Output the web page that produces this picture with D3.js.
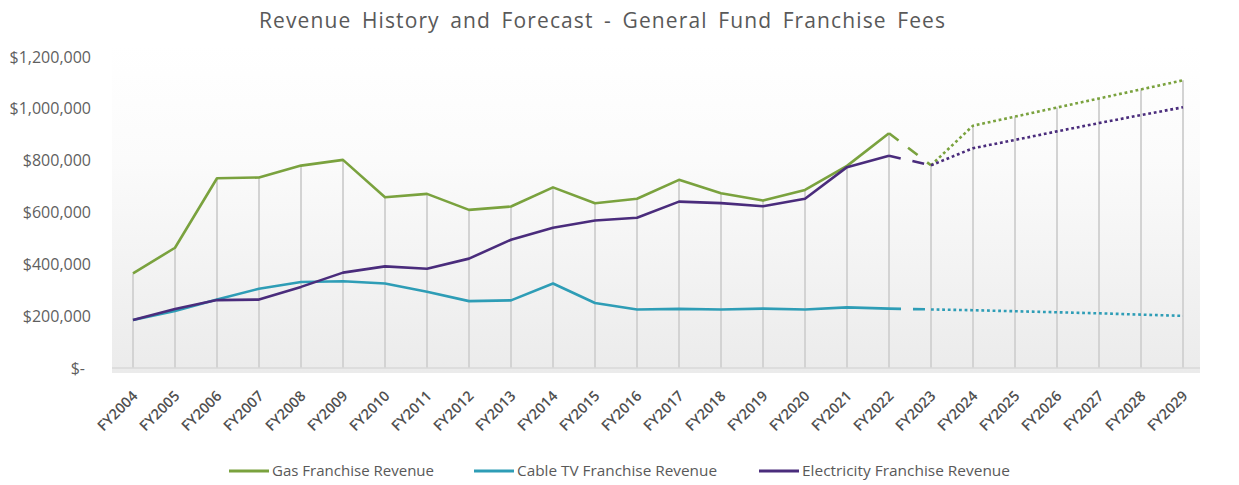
<!DOCTYPE html>
<html>
<head>
<meta charset="utf-8">
<script src="https://cdn.jsdelivr.net/npm/d3@7/dist/d3.min.js"></script>
<style>
  html, body { margin: 0; padding: 0; background: #ffffff; }
  svg { display: block; font-family: "Open Sans", "DejaVu Sans", sans-serif; }
</style>
</head>
<body>
<svg id="chart" width="1239" height="485"></svg>
<script>
// Fiscal years (actuals through FY2022, estimate FY2023, forecast FY2024-FY2029)
const years = ["FY2004","FY2005","FY2006","FY2007","FY2008","FY2009","FY2010","FY2011","FY2012",
  "FY2013","FY2014","FY2015","FY2016","FY2017","FY2018","FY2019","FY2020","FY2021","FY2022",
  "FY2023","FY2024","FY2025","FY2026","FY2027","FY2028","FY2029"];

// Revenue by source (dollars)
const gasRevenue = [365000, 464000, 732000, 735000, 781000, 803000, 659000, 672000, 610000,
  623000, 697000, 636000, 653000, 726000, 674000, 646000, 687000, 780000, 906000,
  782000, 935000, 970000, 1005000, 1040000, 1075000, 1110000];
const cableRevenue = [185000, 220000, 264000, 306000, 332000, 335000, 326000, 294000, 258000,
  261000, 326000, 251000, 226000, 228000, 226000, 229000, 226000, 234000, 229000,
  226000, 223000, 219000, 215000, 211000, 206000, 201000];
const electricRevenue = [185000, 228000, 262000, 264000, 313000, 368000, 392000, 383000, 422000,
  495000, 541000, 569000, 580000, 642000, 636000, 624000, 653000, 775000, 819000,
  782000, 848000, 880000, 913000, 945000, 976000, 1006000];

const seriesNames = ["Gas Franchise Revenue", "Cable TV Franchise Revenue", "Electricity Franchise Revenue"];
const yTicks = [0, 200000, 400000, 600000, 800000, 1000000, 1200000];

// Segment boundaries: solid up to the last actual, dashed to the estimate, dotted after
const lastActual = "FY2022";
const estimateYear = "FY2023";

const colors = ["#7aa23e", "#2e9db6", "#4a2c7c"];
const seriesValues = [gasRevenue, cableRevenue, electricRevenue];

const svg = d3.select("#chart");

const x = d3.scalePoint().domain(years).range([133, 1183]);
const y = d3.scaleLinear().domain([0, 1200000]).range([368, 57]);

// Plot area background: soft vertical gradient
const defs = svg.append("defs");
const grad = defs.append("linearGradient").attr("id", "plotBg")
  .attr("x1", 0).attr("y1", 0).attr("x2", 0).attr("y2", 1);
grad.append("stop").attr("offset", "0%").attr("stop-color", "#ffffff");
grad.append("stop").attr("offset", "35%").attr("stop-color", "#fbfbfb");
grad.append("stop").attr("offset", "100%").attr("stop-color", "#ebebeb");

svg.append("rect")
  .attr("x", 112).attr("y", 45).attr("width", 1088).attr("height", 328)
  .attr("fill", "url(#plotBg)");

// Title
svg.append("text")
  .attr("x", 602).attr("y", 28)
  .attr("text-anchor", "middle")
  .attr("font-size", 21)
  .attr("fill", "#595959")
  .attr("textLength", 686)
  .attr("lengthAdjust", "spacing")
  .attr("word-spacing", 4)
  .text("Revenue History and Forecast - General Fund Franchise Fees");

// Drop lines from the highest value in each year to the baseline
const maxByYear = years.map((yr, i) => ({ yr, v: d3.max(seriesValues, s => s[i]) }));
svg.append("g").selectAll("line")
  .data(maxByYear)
  .join("line")
  .attr("x1", d => x(d.yr)).attr("x2", d => x(d.yr))
  .attr("y1", d => y(d.v)).attr("y2", y(0))
  .attr("stroke", "#d3d3d3")
  .attr("stroke-width", 2);

// Baseline
svg.append("line")
  .attr("x1", 112).attr("x2", 1200)
  .attr("y1", y(0)).attr("y2", y(0))
  .attr("stroke", "#d9d9d9").attr("stroke-width", 1.5);

// Y axis
const yAxis = svg.append("g")
  .attr("transform", "translate(91,0)")
  .call(d3.axisLeft(y).tickValues(yTicks).tickSize(0).tickPadding(0)
    .tickFormat(v => v === 0 ? "$-" : "$" + d3.format(",")(v)));
yAxis.select(".domain").remove();
yAxis.selectAll("text")
  .attr("font-size", 16)
  .attr("font-family", "\"Open Sans\", sans-serif")
  .attr("fill", "#5f5f5f")
  .attr("dx", v => v === 0 ? -6 : 0);

// X axis labels, rotated
const xAxis = svg.append("g")
  .attr("transform", `translate(0,${y(0)})`)
  .call(d3.axisBottom(x).tickSize(0).tickPadding(0));
xAxis.select(".domain").remove();
xAxis.selectAll("text")
  .attr("font-size", 14.5)
  .attr("font-family", "\"Open Sans\", sans-serif")
  .attr("font-weight", 600)
  .attr("fill", "#505050")
  .attr("text-anchor", "end")
  .attr("dy", 0)
  .attr("transform", "translate(5,29) rotate(-45)");

// Series lines split into actual / estimate / forecast segments
const line = d3.line().x(d => x(d.yr)).y(d => y(d.v));
const iA = years.indexOf(lastActual);
const iE = years.indexOf(estimateYear);

seriesValues.forEach((vals, k) => {
  const pts = years.map((yr, i) => ({ yr, v: vals[i] }));
  const g = svg.append("g")
    .attr("fill", "none")
    .attr("stroke", colors[k])
    .attr("stroke-width", 2.6)
    .attr("stroke-linejoin", "round");
  g.append("path").attr("d", line(pts.slice(0, iA + 1)));
  g.append("path").attr("d", line(pts.slice(iA, iE + 1)))
    .attr("stroke-dasharray", "12,12");
  g.append("path").attr("d", line(pts.slice(iE)))
    .attr("stroke-dasharray", "2.8,2.8");
});

// Legend
const legendItems = [
  { name: seriesNames[0], color: colors[0], x: 229, w: 162 },
  { name: seriesNames[1], color: colors[1], x: 474, w: 200 },
  { name: seriesNames[2], color: colors[2], x: 759, w: 208 }
];
const lg = svg.append("g").selectAll("g").data(legendItems).join("g")
  .attr("transform", d => `translate(${d.x},471)`);
lg.append("line")
  .attr("x1", 0).attr("x2", 40).attr("y1", 0).attr("y2", 0)
  .attr("stroke", d => d.color).attr("stroke-width", 3);
lg.append("text")
  .attr("x", 43).attr("y", 5)
  .attr("font-size", 14.5)
  .attr("fill", "#595959")
  .attr("textLength", d => d.w)
  .attr("lengthAdjust", "spacingAndGlyphs")
  .text(d => d.name);
</script>
</body>
</html>
